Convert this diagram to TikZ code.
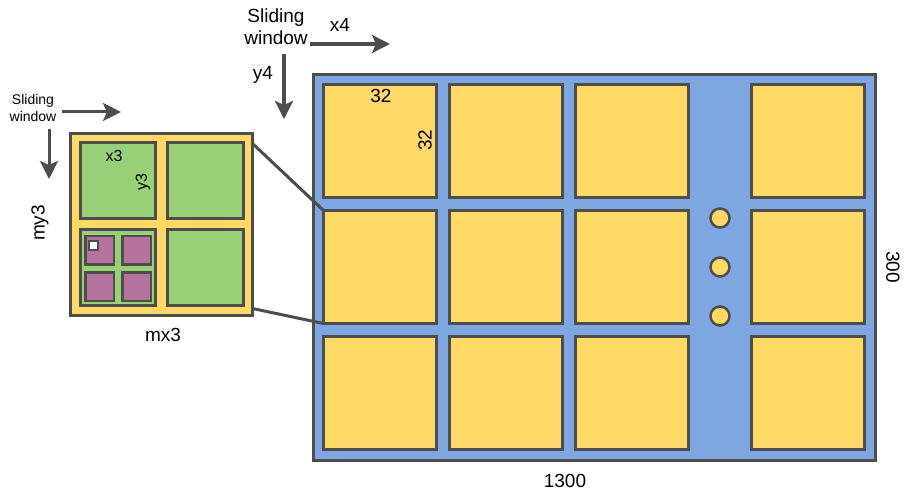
\documentclass[tikz,border=0pt]{standalone}
\usepackage{fontspec}
\setmainfont{Liberation Sans}
\usetikzlibrary{arrows.meta,positioning}
\definecolor{boardblue}{HTML}{7EA6E0}
\definecolor{tileyellow}{HTML}{FFD966}
\definecolor{cellgreen}{HTML}{97D077}
\definecolor{subpurple}{HTML}{B5739D}
\definecolor{edgegray}{HTML}{4D4D4D}
\tikzset{
  box/.style={draw=edgegray,inner sep=0pt,outer sep=0pt},
  board/.style={box,line width=3pt,fill=boardblue,minimum width=562pt,minimum height=386pt},
  tile/.style={box,line width=2.8pt,fill=tileyellow,minimum size=113pt},
  win/.style={box,line width=2.8pt,fill=tileyellow,minimum size=182pt},
  cell/.style={box,line width=2.6pt,fill=cellgreen,minimum size=75.5pt},
  sub/.style={box,line width=2.5pt,fill=subpurple,minimum size=28.5pt},
  px/.style={box,line width=2pt,fill=white,minimum size=9pt},
  dot/.style={box,circle,line width=2.5pt,fill=tileyellow,minimum size=19pt},
  lbl/.style={inner sep=0pt,font=\fontsize{19}{22}\selectfont},
  tiny/.style={inner sep=0pt,font=\fontsize{16}{18}\selectfont},
  slide/.style={draw=edgegray,line width=3.5pt,-{Stealth[length=18pt,width=18pt,inset=4pt]}},
  zoomline/.style={draw=edgegray,line width=3pt}
}
\begin{document}
\begin{tikzpicture}[x=1pt,y=-1pt]
  \useasboundingbox (0,0) rectangle (906,495);
  % big input
  \node[board] (board) at (594.5,267.5) {};
  \node[tile] (t11) at (380,141) {};
  \node[tile] (t12) at (506,141) {};
  \node[tile] (t13) at (632,141) {};
  \node[tile] (t14) at (808,141) {};
  \node[tile] (t21) at (380,267) {};
  \node[tile] (t22) at (506,267) {};
  \node[tile] (t23) at (632,267) {};
  \node[tile] (t24) at (808,267) {};
  \node[tile] (t31) at (380,393) {};
  \node[tile] (t32) at (506,393) {};
  \node[tile] (t33) at (632,393) {};
  \node[tile] (t34) at (808,393) {};
  \node[dot] (d1) at (720,218) {};
  \node[dot] (d2) at (720,267) {};
  \node[dot] (d3) at (720,316) {};
  \node[lbl] (w32) at (381,96) {32};
  \node[lbl,rotate=90] (h32) at (425,140) {32};
  \node[lbl,rotate=-90] (h300) at (893,267) {300};
  \node[lbl] (w1300) at (565,481) {1300};
  % zoomed window
  \node[win] (win) at (161.5,224.5) {};
  \node[cell] (c11) at (118,180.5) {};
  \node[cell] (c12) at (205.5,180.5) {};
  \node[cell] (c21) at (118,267.5) {};
  \node[cell] (c22) at (205.5,267.5) {};
  \node[sub] (s11) at (99.5,250) {};
  \node[sub] (s12) at (136.5,250) {};
  \node[sub] (s21) at (99.5,286.5) {};
  \node[sub] (s22) at (136.5,286.5) {};
  \node[px] (pix) at (93,245) {};
  \node[tiny] (x3) at (114,156) {x3};
  \node[tiny,rotate=90] (y3) at (143,182) {y3};
  \node[lbl,rotate=90] (my3) at (40,223) {my3};
  \node[lbl] (mx3) at (163,335) {mx3};
  \draw[zoomline] ([yshift=-10pt]win.north east) -- (t21.north west);
  \draw[zoomline] ([yshift=7pt]win.south east) -- (t21.south west);
  % sliding windows
  \node[lbl,align=center] (slide4) at (276,27) {Sliding\\window};
  \node[lbl] (x4) at (340,25) {x4};
  \node[lbl] (y4) at (263,75) {y4};
  \coordinate (x4a) at (310,44);
  \coordinate (x4b) at (390,44);
  \coordinate (y4a) at (284,54);
  \coordinate (y4b) at (284,119);
  \draw[slide] (x4a) -- (x4b);
  \draw[slide] (y4a) -- (y4b);
  \node[align=center,inner sep=0pt,font=\fontsize{14}{17}\selectfont] (slide3) at (33,108) {Sliding\\window};
  \coordinate (x3a) at (62,112);
  \coordinate (x3b) at (121,112);
  \coordinate (y3a) at (49,129);
  \coordinate (y3b) at (49,179);
  \draw[slide,line width=3pt] (x3a) -- (x3b);
  \draw[slide,line width=3pt] (y3a) -- (y3b);
\end{tikzpicture}
\end{document}
